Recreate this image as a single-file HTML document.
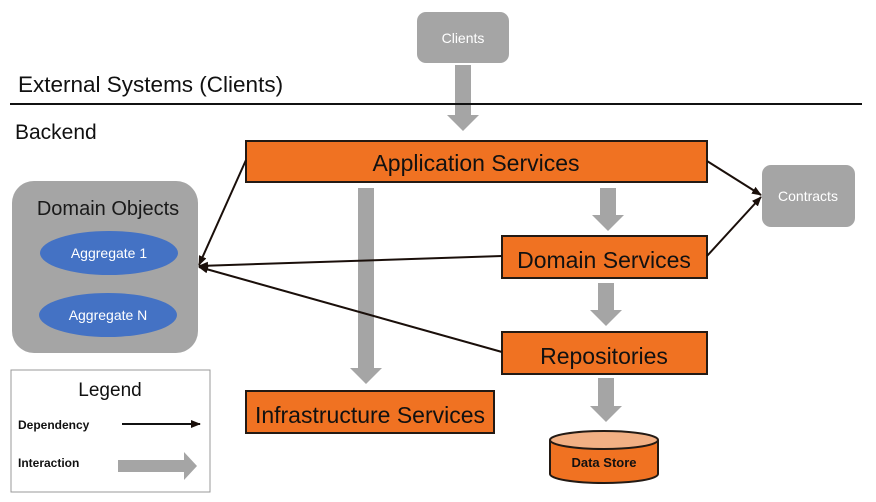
<!DOCTYPE html>
<html><head><meta charset="utf-8"><style>
html,body{margin:0;padding:0;background:#fff;}
svg{display:block;font-family:"Liberation Sans","DejaVu Sans",sans-serif;}
</style></head><body>
<svg width="876" height="502" viewBox="0 0 876 502" xmlns="http://www.w3.org/2000/svg">
<defs>
<marker id="ah" markerWidth="10" markerHeight="8" refX="9" refY="4" orient="auto" markerUnits="userSpaceOnUse">
<path d="M0,0 L10,4 L0,8 Z" fill="#1a0f0a"/></marker>
</defs>
<rect x="417" y="12" width="92" height="51" rx="9" fill="#a5a5a5"/>
<text x="463" y="43" font-size="14" fill="#fff" text-anchor="middle">Clients</text>
<path d="M455,65 H471 V115 H479 L463,131 L447,115 H455 Z" fill="#a5a5a5"/>
<text x="18" y="92" font-size="22.5" fill="#111">External Systems (Clients)</text>
<rect x="10" y="103" width="852" height="2" fill="#111"/>
<text x="15" y="139" font-size="21" fill="#111">Backend</text>

<path d="M358,188 H374 V368 H382 L366,384 L350,368 H358 Z" fill="#a5a5a5"/>
<path d="M600,188 H616 V215 H624 L608,231 L592,215 H600 Z" fill="#a5a5a5"/>
<path d="M598,283 H614 V310 H622 L606,326 L590,310 H598 Z" fill="#a5a5a5"/>
<path d="M598,378 H614 V406 H622 L606,422 L590,406 H598 Z" fill="#a5a5a5"/>

<rect x="246" y="141" width="461" height="41" fill="#f07222" stroke="#231a14" stroke-width="2"/>
<text x="476" y="171" font-size="23" fill="#111" text-anchor="middle">Application Services</text>
<rect x="502" y="236" width="205" height="42" fill="#f07222" stroke="#231a14" stroke-width="2"/>
<text x="604" y="268" font-size="23" fill="#111" text-anchor="middle">Domain Services</text>
<rect x="502" y="332" width="205" height="42" fill="#f07222" stroke="#231a14" stroke-width="2"/>
<text x="604" y="364" font-size="23" fill="#111" text-anchor="middle">Repositories</text>
<rect x="246" y="391" width="248" height="42" fill="#f07222" stroke="#231a14" stroke-width="2"/>
<text x="370" y="423" font-size="23" fill="#111" text-anchor="middle">Infrastructure Services</text>

<path d="M550,440 V474 A54,9 0 0 0 658,474 V440" fill="#f07222" stroke="#231a14" stroke-width="2"/>
<ellipse cx="604" cy="440" rx="54" ry="9" fill="#f2b084" stroke="#231a14" stroke-width="2"/>
<text x="604" y="467" font-size="13" font-weight="bold" fill="#111" text-anchor="middle">Data Store</text>

<rect x="762" y="165" width="93" height="62" rx="9" fill="#a5a5a5"/>
<text x="808" y="201" font-size="14" fill="#fff" text-anchor="middle">Contracts</text>

<rect x="12" y="181" width="186" height="172" rx="22" fill="#a5a5a5"/>
<text x="108" y="215" font-size="20" fill="#1a1a1a" text-anchor="middle">Domain Objects</text>
<ellipse cx="109" cy="253" rx="69" ry="22" fill="#4472c4"/>
<text x="109" y="258" font-size="14" fill="#fff" text-anchor="middle">Aggregate 1</text>
<ellipse cx="108" cy="315" rx="69" ry="22" fill="#4472c4"/>
<text x="108" y="320" font-size="14" fill="#fff" text-anchor="middle">Aggregate N</text>

<g stroke="#1a0f0a" stroke-width="2" fill="none">
<line x1="246" y1="160" x2="199" y2="265" marker-end="url(#ah)"/>
<line x1="502" y1="256" x2="199" y2="266" marker-end="url(#ah)"/>
<line x1="502" y1="352" x2="199" y2="267" marker-end="url(#ah)"/>
<line x1="707" y1="161" x2="761" y2="195" marker-end="url(#ah)"/>
<line x1="707" y1="256" x2="761" y2="197" marker-end="url(#ah)"/>
</g>

<rect x="11" y="370" width="199" height="122" fill="#fff" stroke="#999" stroke-width="1"/>
<text x="110" y="396" font-size="19" fill="#111" text-anchor="middle">Legend</text>
<text x="18" y="429" font-size="12" font-weight="bold" fill="#111">Dependency</text>
<line x1="122" y1="424" x2="200" y2="424" stroke="#111" stroke-width="2" marker-end="url(#ah)"/>
<text x="18" y="467" font-size="12" font-weight="bold" fill="#111">Interaction</text>
<path d="M118,460 H184 V452 L197,466 L184,480 V472 H118 Z" fill="#a5a5a5"/>
</svg>
</body></html>
